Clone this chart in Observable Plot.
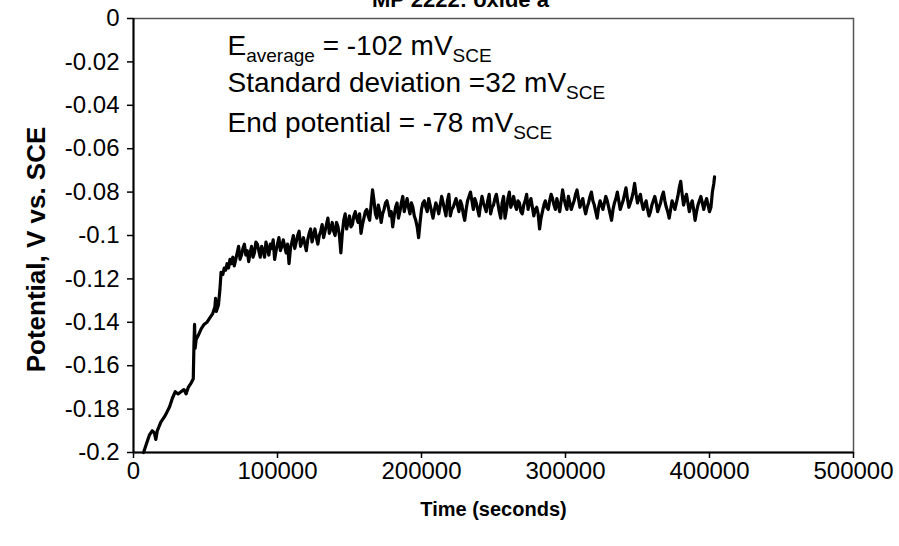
<!DOCTYPE html>
<html>
<head>
<meta charset="utf-8">
<script src="https://cdn.jsdelivr.net/npm/d3@7"></script>
<script src="https://cdn.jsdelivr.net/npm/@observablehq/plot@0.6"></script>
<style>
  html, body { margin: 0; padding: 0; background: #fff; }
  #chart { width: 899px; height: 546px; overflow: hidden; }
  svg { font-family: "Liberation Sans", Arial, sans-serif; overflow: visible; }
</style>
</head>
<body>
<div id="chart"></div>
<script>
// ---- data ----
const titleText = "MP 2222: oxide a";
const xLabel = "Time (seconds)";
const yLabel = "Potential, V vs. SCE";
const xTicks = [0, 100000, 200000, 300000, 400000, 500000];
const yTicks = [0, -0.02, -0.04, -0.06, -0.08, -0.1, -0.12, -0.14, -0.16, -0.18, -0.2];
const annotations = [
  [["E", 0], ["average", 1], [" = -102 mV", 0], ["SCE", 1]],
  [["Standard deviation =32 mV", 0], ["SCE", 1]],
  [["End potential = -78 mV", 0], ["SCE", 1]]
];
// time in thousands of seconds
const timesKs = [
  7, 9, 11, 13, 14.5, 15.5, 16.5, 19, 22, 25,
  27, 29, 31, 33, 35, 36.5, 38, 40, 41.5, 42,
  42.4, 42.8, 43.5, 45, 47, 49, 51, 53, 55, 56.5,
  57, 57.5, 59, 60, 60.8, 62, 63, 64, 65, 66,
  67, 68, 69, 70,
  71, 72, 73, 74, 75, 76, 77, 78, 79, 80,
  81, 82, 83, 84, 85, 86, 87, 88, 89, 90,
  91, 92, 93, 94, 95, 96, 97, 98, 99, 100,
  101, 102, 103, 104, 105, 106, 107, 108, 109, 110,
  111, 112, 113, 114, 115, 116, 117, 118, 119, 120,
  121, 122, 123, 124, 125, 126, 127, 128, 129, 130,
  131, 132, 133, 134, 135, 136, 137, 138, 139, 140,
  141, 142, 143, 144, 145, 146, 147, 148, 149, 150,
  151, 152, 153, 154, 155, 156, 157, 158, 159, 160,
  161, 162, 163, 164, 165, 166, 167, 168, 169, 170,
  171, 172, 173, 174, 175, 176, 177, 178, 179, 180,
  181, 182, 183, 184, 185, 186, 187, 188, 189, 190,
  191, 192, 193, 194, 195, 196, 197, 198, 199, 200,
  201, 202, 203, 204, 205, 206, 207, 208, 209, 210,
  211, 212, 213, 214, 215, 216, 217, 218, 219, 220,
  221, 222, 223, 224, 225, 226, 227, 228, 229, 230,
  231, 232, 233, 234, 235, 236, 237, 238, 239, 240,
  241, 242, 243, 244, 245, 246, 247, 248, 249, 250,
  251, 252, 253, 254, 255, 256, 257, 258, 259, 260,
  261, 262, 263, 264, 265, 266, 267, 268, 269, 270,
  271, 272, 273, 274, 275, 276, 277, 278, 279, 280,
  281, 282, 283, 284, 285, 286, 287, 288, 289, 290,
  291, 292, 293, 294, 295, 296, 297, 298, 299, 300,
  301, 302, 303, 304, 305, 306, 307, 308, 309, 310,
  311, 312, 313, 314, 315, 316, 317, 318, 319, 320,
  321, 322, 323, 324, 325, 326, 327, 328, 329, 330,
  331, 332, 333, 334, 335, 336, 337, 338, 339, 340,
  341, 342, 343, 344, 345, 346, 347, 348, 349, 350,
  351, 352, 353, 354, 355, 356, 357, 358, 359, 360,
  361, 362, 363, 364, 365, 366, 367, 368, 369, 370,
  371, 372, 373, 374, 375, 376, 377, 378, 379, 380,
  381, 382, 383, 384, 385, 386, 387, 388, 389, 390,
  391, 392, 393, 394, 395, 396, 397, 398, 399, 400,
  401, 402, 403, 403.5
];
const potentials = [
  -0.200, -0.196, -0.192, -0.190, -0.191, -0.194, -0.190, -0.186, -0.183, -0.179,
  -0.175, -0.172, -0.173, -0.172, -0.171, -0.173, -0.170, -0.168, -0.166, -0.150,
  -0.141, -0.152, -0.148, -0.146, -0.143, -0.141, -0.140, -0.138, -0.136, -0.133,
  -0.129, -0.135, -0.132, -0.125, -0.117, -0.118, -0.115, -0.116, -0.113, -0.115,
  -0.111, -0.113, -0.110, -0.114,
  -0.111, -0.108, -0.105, -0.111, -0.109, -0.106, -0.104, -0.109, -0.107, -0.112,
  -0.108, -0.105, -0.110, -0.108, -0.103, -0.104, -0.107, -0.110, -0.105, -0.107,
  -0.110, -0.103, -0.106, -0.109, -0.104, -0.106, -0.102, -0.111, -0.107, -0.104,
  -0.101, -0.107, -0.105, -0.102, -0.105, -0.108, -0.104, -0.113, -0.106, -0.103,
  -0.100, -0.106, -0.103, -0.100, -0.098, -0.105, -0.103, -0.101, -0.104, -0.107,
  -0.102, -0.099, -0.097, -0.103, -0.100, -0.097, -0.101, -0.104, -0.100, -0.098,
  -0.095, -0.101, -0.098, -0.095, -0.092, -0.099, -0.097, -0.094, -0.098, -0.100,
  -0.094, -0.096, -0.100, -0.108, -0.099, -0.093, -0.090, -0.097, -0.094, -0.091,
  -0.096, -0.095, -0.091, -0.089, -0.092, -0.094, -0.090, -0.099, -0.095, -0.092,
  -0.089, -0.088, -0.091, -0.093, -0.086, -0.079, -0.084, -0.090, -0.092, -0.086,
  -0.089, -0.094, -0.090, -0.088, -0.085, -0.084, -0.087, -0.091, -0.089, -0.096,
  -0.091, -0.087, -0.085, -0.092, -0.089, -0.085, -0.082, -0.089, -0.086, -0.083,
  -0.087, -0.090, -0.085, -0.087, -0.091, -0.093, -0.096, -0.101, -0.094, -0.088,
  -0.085, -0.084, -0.087, -0.089, -0.083, -0.086, -0.089, -0.092, -0.088, -0.085,
  -0.087, -0.090, -0.086, -0.082, -0.085, -0.088, -0.091, -0.084, -0.081, -0.091,
  -0.088, -0.087, -0.085, -0.083, -0.086, -0.089, -0.084, -0.086, -0.090, -0.093,
  -0.088, -0.084, -0.082, -0.080, -0.084, -0.088, -0.083, -0.085, -0.088, -0.091,
  -0.086, -0.082, -0.085, -0.087, -0.089, -0.084, -0.081, -0.090, -0.087, -0.086,
  -0.083, -0.081, -0.085, -0.089, -0.092, -0.085, -0.082, -0.092, -0.088, -0.083,
  -0.080, -0.087, -0.085, -0.082, -0.086, -0.088, -0.084, -0.085, -0.089, -0.090,
  -0.086, -0.084, -0.081, -0.088, -0.085, -0.083, -0.087, -0.091, -0.088, -0.087,
  -0.090, -0.097, -0.092, -0.089, -0.086, -0.084, -0.087, -0.088, -0.084, -0.081,
  -0.083, -0.086, -0.088, -0.083, -0.086, -0.089, -0.084, -0.079, -0.083, -0.086,
  -0.088, -0.082, -0.085, -0.088, -0.086, -0.084, -0.081, -0.079, -0.083, -0.087,
  -0.085, -0.083, -0.087, -0.090, -0.087, -0.085, -0.082, -0.080, -0.084, -0.086,
  -0.089, -0.092, -0.087, -0.084, -0.086, -0.088, -0.085, -0.082, -0.084, -0.087,
  -0.090, -0.093, -0.088, -0.085, -0.083, -0.080, -0.084, -0.088, -0.086, -0.084,
  -0.081, -0.078, -0.083, -0.087, -0.085, -0.083, -0.080, -0.076, -0.081, -0.085,
  -0.083, -0.081, -0.085, -0.088, -0.086, -0.084, -0.088, -0.091, -0.089, -0.086,
  -0.084, -0.082, -0.085, -0.089, -0.087, -0.085, -0.082, -0.080, -0.084, -0.087,
  -0.089, -0.092, -0.088, -0.084, -0.086, -0.088, -0.085, -0.082, -0.078, -0.075,
  -0.081, -0.086, -0.083, -0.081, -0.085, -0.089, -0.086, -0.084, -0.088, -0.093,
  -0.089, -0.086, -0.084, -0.082, -0.085, -0.088, -0.085, -0.083, -0.086, -0.089,
  -0.087, -0.080, -0.076, -0.073
];
const data = timesKs.map((t, i) => ({t: t * 1000, v: potentials[i]}));
const plainLines = annotations.map(segs => segs.map(s => s[0]).join(""));

// ---- chart ----
const font = "'Liberation Sans', Arial, sans-serif";
const baselines = [36, 73, 113];
const plot = Plot.plot({
  width: 899,
  height: 546,
  marginTop: 18,
  marginBottom: 94,
  marginLeft: 133,
  marginRight: 46,
  style: {fontFamily: font, background: "#fff", color: "#000"},
  x: {domain: [0, 500000]},
  y: {domain: [-0.2, 0]},
  marks: [
    Plot.frame({stroke: "#555", strokeWidth: 1.5}),
    Plot.axisX({ticks: xTicks, tickFormat: d => String(d), tickSize: 6, tickPadding: 3, fontSize: 24, label: null, stroke: "#000", strokeWidth: 1.5}),
    Plot.axisY({ticks: yTicks, tickFormat: d => String(d), tickSize: 6, tickPadding: 8, fontSize: 24, label: null, stroke: "#000", strokeWidth: 1.5}),
    Plot.ruleX([0], {stroke: "#000", strokeWidth: 2}),
    Plot.ruleY([-0.2], {stroke: "#000", strokeWidth: 2}),
    Plot.line(data, {x: "t", y: "v", stroke: "#000", strokeWidth: 3.2, strokeLinejoin: "round"}),
    Plot.text([titleText], {frameAnchor: "top", dx: -33, dy: -12, lineAnchor: "bottom", fontSize: 22, fontWeight: "bold", fill: "#000"}),
    Plot.text([xLabel], {frameAnchor: "bottom", dy: 63, lineAnchor: "bottom", fontSize: 20, fontWeight: "bold", fill: "#000"}),
    Plot.text([yLabel], {frameAnchor: "left", dx: -97, dy: 14, rotate: -90, textAnchor: "middle", fontSize: 26, fontWeight: "bold", fill: "#000"}),
    ...plainLines.map((line, i) => Plot.text([line], {frameAnchor: "top-left", dx: 94, dy: baselines[i], lineAnchor: "bottom", textAnchor: "start", fontSize: 28, fill: "#000"}))
  ]
});
document.getElementById("chart").appendChild(plot);

// rebuild annotation lines with subscripts
d3.select(plot).selectAll("text").each(function() {
  const idx = plainLines.indexOf(this.textContent);
  if (idx < 0) return;
  const el = d3.select(this);
  el.text(null);
  let shifted = false;
  annotations[idx].forEach(([txt, sub]) => {
    const ts = el.append("tspan").text(txt);
    if (sub && !shifted) { ts.attr("dy", "7").attr("font-size", 19); shifted = true; }
    else if (sub) { ts.attr("font-size", 19); }
    else if (!sub && shifted) { ts.attr("dy", "-7"); shifted = false; }
  });
});
</script>
</body>
</html>
